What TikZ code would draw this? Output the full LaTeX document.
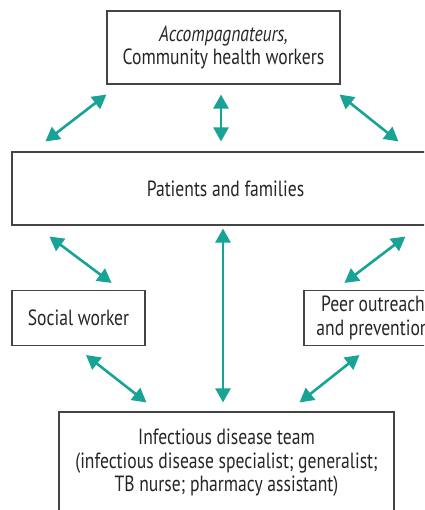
\documentclass[tikz,border=0pt]{standalone}
\usepackage{fontspec}
\setmainfont[FakeStretch=0.8]{PT Sans}
\usetikzlibrary{arrows.meta,calc}
\definecolor{teal1}{HTML}{17A396}
\definecolor{frame1}{HTML}{444444}
\begin{document}
\begin{tikzpicture}[x=1pt,y=-1pt,
  box/.style={draw=frame1,line width=1.1pt,rectangle,align=center,inner sep=0pt,
    font=\fontsize{22}{23.5}\selectfont,text=black!85},
  link/.style={draw=teal1,line width=2.6pt,{Triangle[length=14pt,width=15pt]}-{Triangle[length=14pt,width=15pt]},shorten <=0pt,shorten >=0pt}]
\clip (0,0) rectangle (424,510);
\fill[white] (0,0) rectangle (424,510);
\node[box,minimum width=233pt,minimum height=73pt] (top) at (223.5,47.5) {\textit{Accompagnateurs,}\\Community health workers};
\node[box,minimum width=427pt,minimum height=73pt] (pat) at (225.5,188.5) {Patients and families};
\node[box,minimum width=133pt,minimum height=55pt] (soc) at (78.5,318) {Social worker};
\node[box,minimum width=138pt,minimum height=55pt] (peer) at (373,318) {Peer outreach\\and prevention};
\node[box,minimum width=335pt,minimum height=102pt] (idt) at (226.5,463) {Infectious disease team\\(infectious disease specialist; generalist;\\TB nurse; pharmacy assistant)};
\draw[link] ($(top.south west)+(0,10)$) -- ($(pat.north west)+(34,-10)$);
\draw[link] ($(top.south)+(-2.5,10)$) -- ($(pat.north)+(-4.5,-10)$);
\draw[link] ($(top.south east)+(-1,10)$) -- ($(pat.north west)+(387,-10)$);
\draw[link] ($(pat.south)+(-2.5,3)$) -- ($(idt.north)+(-3.5,-9)$);
\draw[link] ($(pat.south west)+(38,11)$) -- ($(soc.north east)+(-34,-7)$);
\draw[link] ($(pat.south west)+(394,11)$) -- ($(peer.north west)+(41,-7)$);
\draw[link] ($(soc.south)+(7.5,9)$) -- ($(idt.north west)+(88,-9)$);
\draw[link] ($(peer.south west)+(56,9)$) -- ($(idt.north east)+(-95,-9)$);
\end{tikzpicture}
\end{document}
